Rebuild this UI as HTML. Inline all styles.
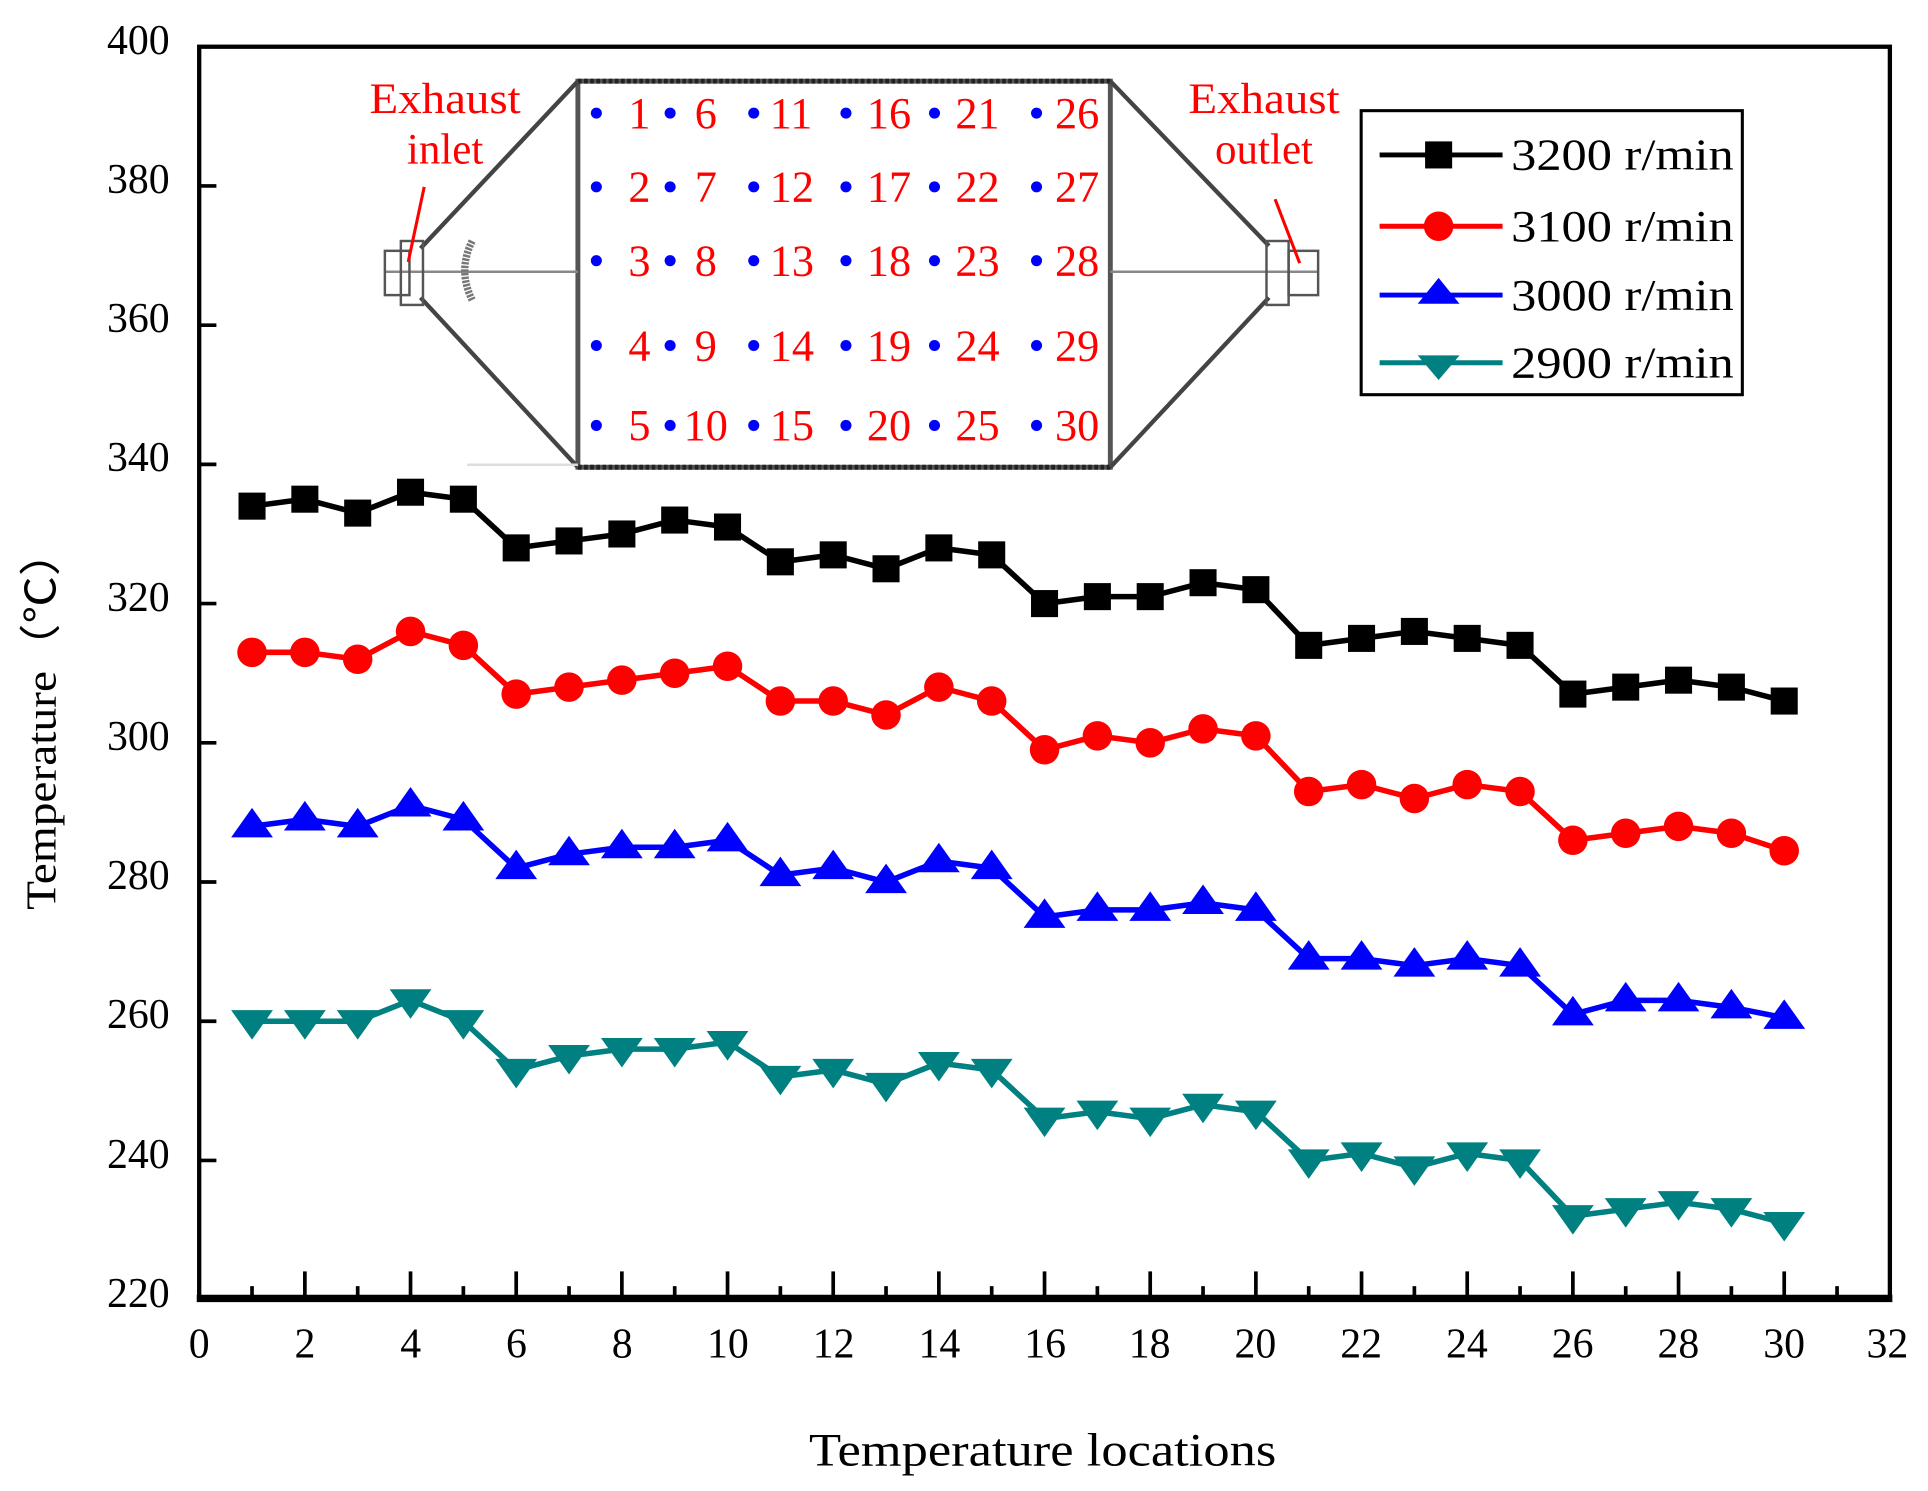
<!DOCTYPE html>
<html><head><meta charset="utf-8"><style>
html,body{margin:0;padding:0;background:#fff;}
svg{display:block;}
text{font-family:"Liberation Serif",serif;}
</style></head><body>
<svg id="s" width="1928" height="1491" viewBox="0 0 1568 1212.6" preserveAspectRatio="none" xmlns="http://www.w3.org/2000/svg">
<rect x="0" y="0" width="1568" height="1212.6" fill="#fff"/>
<g stroke="#444" fill="none">
<rect x="470" y="66" width="433" height="314" stroke-width="4" stroke="#555"/>
<line x1="470" y1="66" x2="903" y2="66" stroke="#222" stroke-width="4" stroke-dasharray="3 2"/>
<line x1="470" y1="380" x2="903" y2="380" stroke="#222" stroke-width="4" stroke-dasharray="3 2"/>
<line x1="470" y1="66" x2="342" y2="202" stroke-width="3.5"/>
<line x1="470" y1="380" x2="342" y2="242" stroke-width="3.5"/>
<line x1="903" y1="66" x2="1032" y2="200" stroke-width="3.5"/>
<line x1="903" y1="380" x2="1032" y2="242" stroke-width="3.5"/>
<line x1="313" y1="221" x2="470" y2="221" stroke="#888" stroke-width="2"/>
<line x1="903" y1="221" x2="1072" y2="221" stroke="#888" stroke-width="2"/>
<rect x="313" y="204" width="20" height="36" stroke-width="2" stroke="#555"/>
<rect x="326" y="196" width="18" height="52" stroke-width="2" stroke="#555"/>
<rect x="1030" y="196" width="18" height="52" stroke-width="2" stroke="#555"/>
<rect x="1048" y="204" width="24" height="36" stroke-width="2" stroke="#555"/>
<path d="M384 196 Q372 220 384 244" stroke="#777" stroke-width="6" stroke-dasharray="2 1"/>
<line x1="380" y1="378" x2="470" y2="378" stroke="#ddd" stroke-width="2"/>
</g>
<g stroke="#f00" stroke-width="2.5">
<line x1="345" y1="152" x2="332" y2="213"/>
<line x1="1037" y1="162" x2="1057" y2="214"/>
</g>
<g fill="#f00" font-size="35" text-anchor="middle">
<text x="362" y="92" textLength="123" lengthAdjust="spacingAndGlyphs">Exhaust</text>
<text x="362" y="133">inlet</text>
<text x="1028" y="92" textLength="123" lengthAdjust="spacingAndGlyphs">Exhaust</text>
<text x="1028" y="133">outlet</text>
</g>
<g id="grid"></g>
<rect x="162" y="38" width="1375" height="1019" fill="none" stroke="#000" stroke-width="3.5"/>
<line x1="160" y1="1056" x2="1539" y2="1056" stroke="#000" stroke-width="6"/>
<g id="ticks" stroke="#000" stroke-width="3"></g>
<g font-size="34" text-anchor="end" fill="#000">
<text x="138" y="44">400</text><text x="138" y="157">380</text><text x="138" y="270">360</text>
<text x="138" y="383">340</text><text x="138" y="497">320</text><text x="138" y="610">300</text>
<text x="138" y="723">280</text><text x="138" y="836">260</text><text x="138" y="950">240</text>
<text x="138" y="1063">220</text>
</g>
<g font-size="34" text-anchor="middle" fill="#000">
<text x="162" y="1104">0</text><text x="248" y="1104">2</text><text x="334" y="1104">4</text>
<text x="420" y="1104">6</text><text x="506" y="1104">8</text><text x="592" y="1104">10</text>
<text x="678" y="1104">12</text><text x="764" y="1104">14</text><text x="850" y="1104">16</text>
<text x="935" y="1104">18</text><text x="1021" y="1104">20</text><text x="1107" y="1104">22</text>
<text x="1193" y="1104">24</text><text x="1279" y="1104">26</text><text x="1365" y="1104">28</text>
<text x="1451" y="1104">30</text><text x="1535" y="1104">32</text>
</g>
<text x="848" y="1192" font-size="38" text-anchor="middle" textLength="380" lengthAdjust="spacingAndGlyphs">Temperature locations</text>
<text transform="translate(45,585) rotate(-90)" font-size="34" text-anchor="middle" textLength="310" lengthAdjust="spacingAndGlyphs">Temperature（℃）</text>
<g id="series"></g>
<rect x="1107" y="90" width="310" height="231" fill="#fff" stroke="#000" stroke-width="2.5"/>
<g stroke-width="4">
<line x1="1122" y1="126" x2="1222" y2="126" stroke="#000"/>
<line x1="1122" y1="184" x2="1222" y2="184" stroke="#f00"/>
<line x1="1122" y1="240" x2="1222" y2="240" stroke="#00f"/>
<line x1="1122" y1="295" x2="1222" y2="295" stroke="#008080"/>
</g>
<rect x="1159" y="115" width="22" height="22" fill="#000"/>
<circle cx="1170" cy="184" r="12" fill="#f00"/>
<polygon points="1170,226 1187,247 1153,247" fill="#00f"/>
<polygon points="1170,309 1187,289 1153,289" fill="#008080"/>
<g font-size="36" fill="#000">
<text x="1229" y="138" textLength="181" lengthAdjust="spacingAndGlyphs">3200 r/min</text>
<text x="1229" y="196" textLength="181" lengthAdjust="spacingAndGlyphs">3100 r/min</text>
<text x="1229" y="252" textLength="181" lengthAdjust="spacingAndGlyphs">3000 r/min</text>
<text x="1229" y="307" textLength="181" lengthAdjust="spacingAndGlyphs">2900 r/min</text>
</g>
</svg>
<script>
var NS="http://www.w3.org/2000/svg";
function X(v){return 162+v*1375/32;}
function Y(v){return 38+(400-v)*1019/180;}
function el(t,a,p){var e=document.createElementNS(NS,t);for(var k in a)e.setAttribute(k,a[k]);p.appendChild(e);return e;}
var tk=document.getElementById('ticks');
for(var i=1;i<32;i++){var L=i%2?10:22;el('line',{x1:X(i),y1:1056,x2:X(i),y2:1056-L},tk);}
for(var v=240;v<400;v+=20){el('line',{x1:162,y1:Y(v),x2:176,y2:Y(v)},tk);}
var gd=document.getElementById('grid');
var cx=[485,545,613,688,760,843],ry=[92,152,212,281,346];
for(var c=0;c<6;c++)for(var r=0;r<5;r++){el('circle',{cx:cx[c],cy:ry[r],r:4.5,fill:'#00f'},gd);}
var D=[
[334,335,333,336,335,328,329,330,332,331,326,327,325,328,327,320,321,321,323,322,314,315,316,315,314,307,308,309,308,306],
[313,313,312,316,314,307,308,309,310,311,306,306,304,308,306,299,301,300,302,301,293,294,292,294,293,286,287,288,287,284.5],
[288,289,288,291,289,282,284,285,285,286,281,282,280,283,282,275,276,276,277,276,269,269,268,269,268,261,263,263,262,260.5],
[260,260,260,263,260,253,255,256,256,257,252,253,251,254,253,246,247,246,248,247,240,241,239,241,240,232,233,234,233,231]];
var C=['#000','#f00','#00f','#008080'];
var sg=document.getElementById('series');
for(var s=0;s<4;s++){var pts=D[s].map(function(v,i){return X(i+1)+','+Y(v);}).join(' ');
el('polyline',{points:pts,fill:'none',stroke:C[s],'stroke-width':4.5,'stroke-linejoin':'round'},sg);
D[s].forEach(function(v,i){var x=X(i+1),y=Y(v);
if(s==0)el('rect',{x:x-11,y:y-11,width:22,height:22,fill:C[s]},sg);
else if(s==1)el('circle',{cx:x,cy:y,r:12,fill:C[s]},sg);
else if(s==2)el('polygon',{points:(x)+','+(y-15)+' '+(x+17)+','+(y+9)+' '+(x-17)+','+(y+9),fill:C[s]},sg);
else el('polygon',{points:(x)+','+(y+15)+' '+(x+17)+','+(y-9)+' '+(x-17)+','+(y-9),fill:C[s]},sg);});}
</script>
<svg style="position:absolute;left:0;top:0" width="1928" height="1491" viewBox="0 0 1568 1212.6" preserveAspectRatio="none">
<g fill="#f00" font-size="36" font-family="Liberation Serif, serif">
<text x="511" y="104">1</text><text x="565" y="104">6</text><text x="626" y="104">11</text><text x="705" y="104">16</text><text x="777" y="104">21</text><text x="858" y="104">26</text>
<text x="511" y="164">2</text><text x="565" y="164">7</text><text x="626" y="164">12</text><text x="705" y="164">17</text><text x="777" y="164">22</text><text x="858" y="164">27</text>
<text x="511" y="224">3</text><text x="565" y="224">8</text><text x="626" y="224">13</text><text x="705" y="224">18</text><text x="777" y="224">23</text><text x="858" y="224">28</text>
<text x="511" y="293">4</text><text x="565" y="293">9</text><text x="626" y="293">14</text><text x="705" y="293">19</text><text x="777" y="293">24</text><text x="858" y="293">29</text>
<text x="511" y="358">5</text><text x="556" y="358">10</text><text x="626" y="358">15</text><text x="705" y="358">20</text><text x="777" y="358">25</text><text x="858" y="358">30</text>
</g>
</svg>
</body></html>
